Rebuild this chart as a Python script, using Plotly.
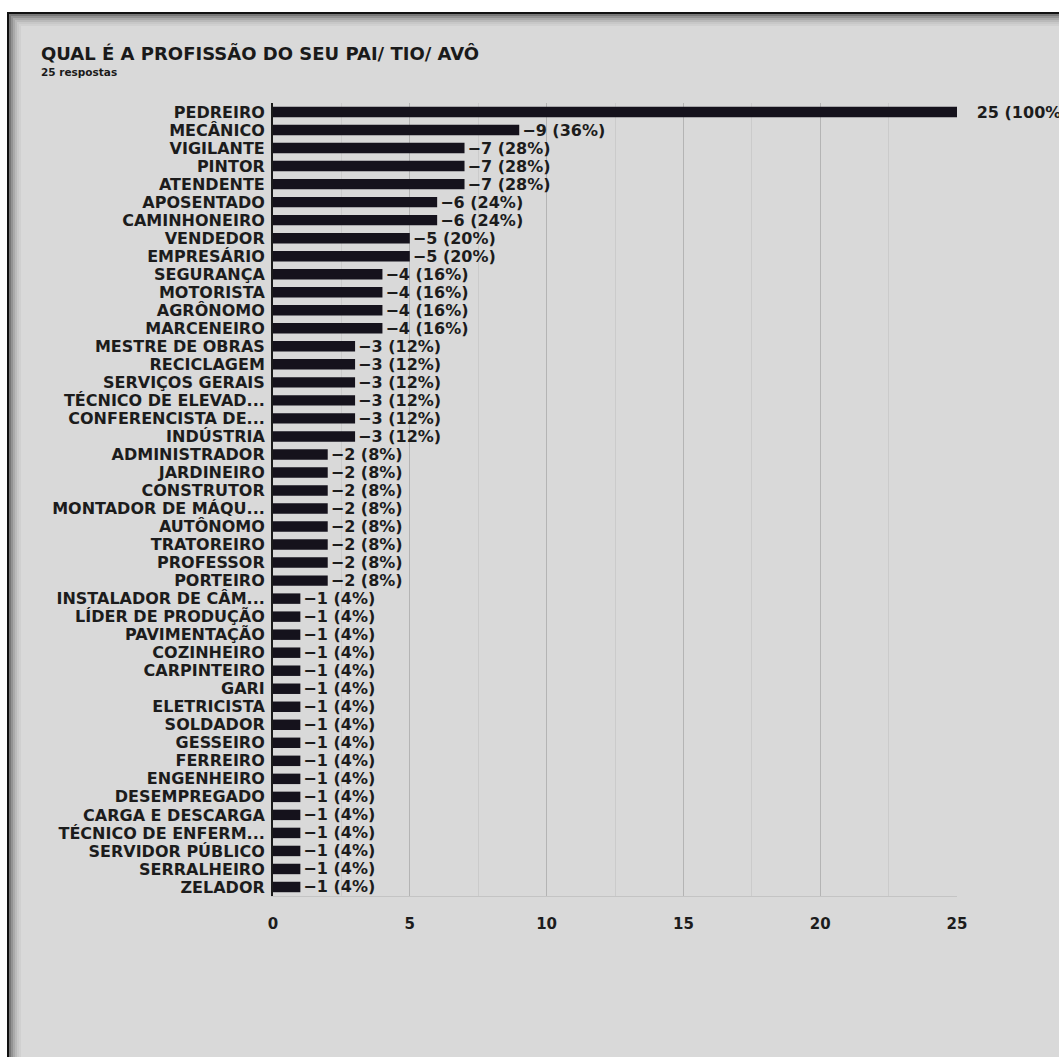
import plotly.graph_objects as go

# Survey answers: profession of father / uncle / grandfather
categories = [
    "PEDREIRO", "MECÂNICO", "VIGILANTE", "PINTOR", "ATENDENTE", "APOSENTADO",
    "CAMINHONEIRO", "VENDEDOR", "EMPRESÁRIO", "SEGURANÇA", "MOTORISTA",
    "AGRÔNOMO", "MARCENEIRO", "MESTRE DE OBRAS", "RECICLAGEM",
    "SERVIÇOS GERAIS", "TÉCNICO DE ELEVAD...", "CONFERENCISTA DE...",
    "INDÚSTRIA", "ADMINISTRADOR", "JARDINEIRO", "CONSTRUTOR",
    "MONTADOR DE MÁQU...", "AUTÔNOMO", "TRATOREIRO", "PROFESSOR", "PORTEIRO",
    "INSTALADOR DE CÂM...", "LÍDER DE PRODUÇÃO", "PAVIMENTAÇÃO", "COZINHEIRO",
    "CARPINTEIRO", "GARI", "ELETRICISTA", "SOLDADOR", "GESSEIRO", "FERREIRO",
    "ENGENHEIRO", "DESEMPREGADO", "CARGA E DESCARGA", "TÉCNICO DE ENFERM...",
    "SERVIDOR PÚBLICO", "SERRALHEIRO", "ZELADOR",
]
counts = [
    25, 9, 7, 7, 7, 6,
    6, 5, 5, 4, 4,
    4, 4, 3, 3,
    3, 3, 3,
    3, 2, 2, 2,
    2, 2, 2, 2, 2,
    1, 1, 1, 1,
    1, 1, 1, 1, 1, 1,
    1, 1, 1, 1,
    1, 1, 1,
]
total_responses = 25
x_ticks = [0, 5, 10, 15, 20, 25]

title_text = "QUAL É A PROFISSÃO DO SEU PAI/ TIO/ AVÔ"
subtitle_text = f"{total_responses} respostas"

percents = [round(c * 100 / total_responses) for c in counts]
max_count = max(counts)
labels = [
    (f"\u00a0\u00a0\u00a0{c} ({p}%)" if c == max_count else f"−{c} ({p}%)")
    for c, p in zip(counts, percents)
]

W, H = 1059, 1057
ML, MR, MT, MB = 273, 102, 103, 161
PW, PH = W - ML - MR, H - MT - MB


def px(x):
    return (x - ML) / PW


def py(y):
    return 1 - (y - MT) / PH


BG = "#d9d9d9"
INK = "#15121c"
LABEL_FONT = dict(family="DejaVu Sans", size=16, color="#1c1c1c", weight="bold")

fig = go.Figure()
fig.add_trace(go.Bar(
    x=counts,
    y=categories,
    orientation="h",
    marker=dict(color=INK, line=dict(width=0)),
    text=labels,
    textposition="outside",
    constraintext="none",
    textfont=LABEL_FONT,
    cliponaxis=False,
    hoverinfo="skip",
))

# Screenshot frame: white outside, black border with inner shadow
shapes = [dict(
    type="rect", xref="paper", yref="paper", layer="below",
    x0=px(8), x1=px(W + 40), y0=py(H + 40), y1=py(13),
    fillcolor=BG, line=dict(color="#111", width=2),
)]
for i, op in enumerate([0.45, 0.32, 0.22, 0.14, 0.08, 0.04]):
    off = 10 + 2 * (i + 1)
    shapes.append(dict(
        type="rect", xref="paper", yref="paper", layer="below",
        x0=px(off - 2), x1=px(W + 40), y0=py(H + 40), y1=py(off + 3),
        fillcolor="rgba(0,0,0,0)",
        line=dict(color=f"rgba(0,0,0,{op})", width=2),
    ))

annotations = [
    dict(text=title_text, xref="paper", yref="paper", x=px(39), y=py(53),
         xanchor="left", yanchor="middle", showarrow=False,
         font=dict(family="DejaVu Sans", size=18, color="#1a1a1a", weight="bold")),
    dict(text=subtitle_text, xref="paper", yref="paper", x=px(39), y=py(72),
         xanchor="left", yanchor="middle", showarrow=False,
         font=dict(family="DejaVu Sans", size=10.5, color="#1a1a1a", weight="bold")),
]

fig.update_layout(
    width=W, height=H,
    margin=dict(l=ML, r=MR, t=MT, b=MB, pad=0),
    paper_bgcolor="white",
    plot_bgcolor="rgba(0,0,0,0)",
    showlegend=False,
    bargap=0.42,
    shapes=shapes,
    annotations=annotations,
    font=dict(family="DejaVu Sans", color="#1c1c1c"),
)
fig.update_xaxes(
    range=[0, 25], tickvals=x_ticks, ticks="",
    showgrid=True, gridcolor="#b4b4b4", gridwidth=1,
    minor=dict(dtick=2.5, showgrid=True, gridcolor="#cbcbcb", gridwidth=1),
    zeroline=False, showline=True, linecolor="#c4c4c4", linewidth=1,
    tickfont=dict(family="DejaVu Sans", size=15, color="#1c1c1c", weight="bold"),
    ticklabelstandoff=14, fixedrange=True,
)
fig.update_yaxes(
    categoryorder="array", categoryarray=categories, autorange="reversed",
    tickmode="array", tickvals=categories, ticktext=categories,
    ticks="", showgrid=False, zeroline=False,
    showline=True, linecolor="#1a1a1a", linewidth=2,
    tickfont=LABEL_FONT, ticklabelstandoff=3, fixedrange=True,
)

fig.write_html("out.html", config=dict(displayModeBar=False))
